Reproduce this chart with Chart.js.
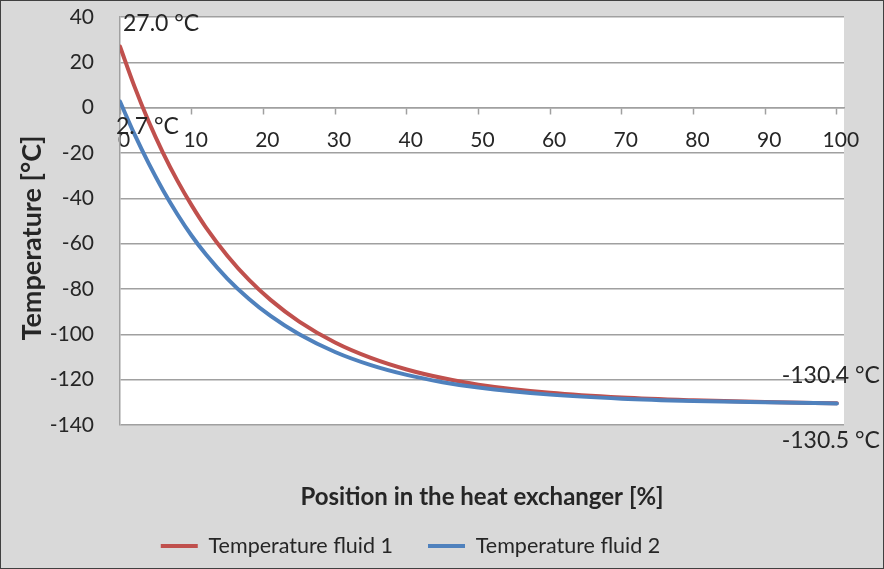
<!DOCTYPE html>
<html>
<head>
<meta charset="utf-8">
<script src="https://cdn.jsdelivr.net/npm/chart.js@4/dist/chart.umd.min.js"></script>
<style>
  body { margin: 0; background: #d9d9d9; }
  canvas { display: block; }
</style>
</head>
<body>
<canvas id="chart" width="884" height="569"></canvas>
<script>
// position along the exchanger [%] and temperatures [°C]
const positions = [0, 2, 4, 6, 8, 10, 12, 15, 18, 21, 25, 30, 35, 40, 45, 50, 60, 70, 80, 90, 100];
const fluid1 = [27.0, 9.5, -6.1, -19.9, -32.2, -43.1, -52.9, -65.4, -76.0, -84.8, -94.4, -103.6, -110.4, -115.5, -119.3, -122.2, -125.8, -127.9, -129.1, -129.9, -130.4];
const fluid2 = [2.7, -11.6, -24.6, -36.4, -47.0, -56.5, -64.8, -75.5, -84.4, -91.9, -100.0, -107.8, -113.6, -117.9, -121.1, -123.5, -126.6, -128.4, -129.4, -130.0, -130.5];

const xTicks = [0, 10, 20, 30, 40, 50, 60, 70, 80, 90, 100];
const yTicks = [40, 20, 0, -20, -40, -60, -80, -100, -120, -140];

const seriesNames = ["Temperature fluid 1", "Temperature fluid 2"];
const xTitle = "Position in the heat exchanger [%]";
const yTitle = "Temperature [°C]";

const FONT = "Lato";
const TEXT = "#262626";
const GRID = "#a0a0a0";

function points(values) {
  return positions.map((x, i) => ({ x: x, y: values[i] }));
}

// axis titles, end point labels, backgrounds and frame
const decor = {
  id: "decor",
  afterLayout(chart) {
    // legend sits lower and a bit further left than Chart.js would put it
    const lg = chart.legend;
    lg.top += 75.25; lg.bottom += 75.25;
    lg.left -= 11.5; lg.right -= 11.5;
  },
  beforeDraw(chart) {
    const { ctx, chartArea: a } = chart;
    ctx.save();
    ctx.fillStyle = "#d9d9d9";
    ctx.fillRect(0, 0, chart.width, chart.height);
    ctx.fillStyle = "#ffffff";
    ctx.fillRect(a.left, a.top, a.right - a.left, a.bottom - a.top);
    ctx.restore();
  },
  afterDraw(chart) {
    const { ctx, chartArea: a, scales } = chart;
    const x = scales.x, y = scales.y;
    ctx.save();
    ctx.fillStyle = TEXT;
    ctx.textBaseline = "middle";

    ctx.textAlign = "center";
    ctx.font = "bold 24px " + FONT;
    ctx.fillText(xTitle, (a.left + a.right) / 2, a.bottom + 72);
    ctx.save();
    ctx.font = "bold 27px " + FONT;
    ctx.translate(32, (a.top + a.bottom) / 2 + 17);
    ctx.rotate(-Math.PI / 2);
    ctx.fillText(yTitle, 0, 0);
    ctx.restore();

    ctx.font = "23px " + FONT;
    const last = positions.length - 1;
    ctx.textAlign = "left";
    ctx.fillText(fluid1[0].toFixed(1) + " °C", x.getPixelForValue(positions[0]) + 3, y.getPixelForValue(fluid1[0]) - 23);
    ctx.fillText(fluid2[0].toFixed(1) + " °C", x.getPixelForValue(positions[0]) - 4, y.getPixelForValue(fluid2[0]) + 25);
    ctx.textAlign = "right";
    ctx.fillText(fluid1[last].toFixed(1) + " °C", x.getPixelForValue(positions[last]) + 43, y.getPixelForValue(fluid1[last]) - 28);
    ctx.fillText(fluid2[last].toFixed(1) + " °C", x.getPixelForValue(positions[last]) + 43, y.getPixelForValue(fluid2[last]) + 37);

    ctx.strokeStyle = "#404040";
    ctx.lineWidth = 1;
    ctx.strokeRect(0.5, 0.5, chart.width - 1, chart.height - 1);
    ctx.restore();
  }
};

const chart = new Chart(document.getElementById("chart"), {
  type: "line",
  data: {
    datasets: [
      {
        label: seriesNames[0],
        data: points(fluid1),
        borderColor: "#c0504d",
        backgroundColor: "#c0504d",
        borderWidth: 4,
        borderCapStyle: "round",
        pointRadius: 0,
        cubicInterpolationMode: "monotone",
        order: 1,
      },
      {
        label: seriesNames[1],
        data: points(fluid2),
        borderColor: "#4f81bd",
        backgroundColor: "#4f81bd",
        borderWidth: 4,
        borderCapStyle: "round",
        pointRadius: 0,
        cubicInterpolationMode: "monotone",
        order: 0,
      },
    ],
  },
  options: {
    responsive: false,
    animation: false,
    layout: { padding: { left: 0, top: 17, right: 40, bottom: 77.5 } },
    plugins: {
      tooltip: { enabled: false },
      legend: {
        position: "bottom",
        labels: {
          usePointStyle: true,
          pointStyle: "line",
          pointStyleWidth: 37,
          padding: 35,
          color: TEXT,
          font: { family: FONT, size: 21.5 },
          sort: (a, b) => a.datasetIndex - b.datasetIndex,
        },
      },
    },
    scales: {
      x: {
        type: "linear",
        min: 0,
        max: 101,
        position: { y: 0 },
        afterFit: (s) => { s.height = 0; },
        afterBuildTicks: (s) => { s.ticks = xTicks.map((v) => ({ value: v })); },
        border: { display: true, color: GRID, width: 1.5 },
        grid: { drawOnChartArea: false, drawTicks: true, tickLength: 6, tickColor: GRID, tickWidth: 1.5 },
        ticks: { color: TEXT, font: { family: FONT, size: 21 }, padding: 14, labelOffset: 4, maxRotation: 0, autoSkip: false },
      },
      y: {
        min: -140,
        max: 40,
        afterFit: (s) => { s.width = 120; },
        afterBuildTicks: (s) => { s.ticks = yTicks.map((v) => ({ value: v })); },
        border: { display: true, color: GRID, width: 1.5 },
        grid: { color: GRID, lineWidth: 1.5, drawTicks: true, tickLength: 26, tickColor: "rgba(0,0,0,0)" },
        ticks: { color: TEXT, font: { family: FONT, size: 21 }, padding: 0 },
      },
    },
  },
  plugins: [decor],
});
</script>
</body>
</html>
